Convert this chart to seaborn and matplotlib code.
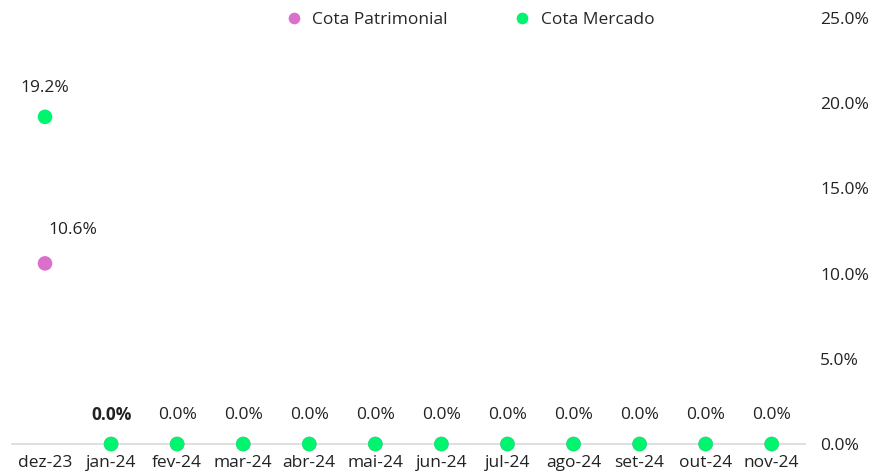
import pandas as pd
import matplotlib.pyplot as plt
import seaborn as sns

# Data
meses = ["dez-23", "jan-24", "fev-24", "mar-24", "abr-24", "mai-24",
         "jun-24", "jul-24", "ago-24", "set-24", "out-24", "nov-24"]
cota_patrimonial = [10.6, 0.0, 0.0, 0.0, 0.0, 0.0, 0.0, 0.0, 0.0, 0.0, 0.0, 0.0]
cota_mercado = [19.2, 0.0, 0.0, 0.0, 0.0, 0.0, 0.0, 0.0, 0.0, 0.0, 0.0, 0.0]
y_ticks = [0, 5, 10, 15, 20, 25]

cor_patrimonial = "#DA70CB"
cor_mercado = "#00F56E"
fs = 12.5

df = pd.DataFrame({
    "mes": meses * 2,
    "valor": cota_patrimonial + cota_mercado,
    "serie": ["Cota Patrimonial"] * len(meses) + ["Cota Mercado"] * len(meses),
})

sns.set_theme(style="white")
plt.rcParams['font.family'] = ['Open Sans', 'DejaVu Sans']

fig = plt.figure(figsize=(8.75, 4.76), dpi=100)
ax = fig.add_axes([0.0137, 0.0672, 0.906, 0.895])

sns.scatterplot(
    data=df,
    x="mes",
    y="valor",
    hue="serie",
    palette={"Cota Patrimonial": cor_patrimonial, "Cota Mercado": cor_mercado},
    s=110,
    edgecolor="none",
    clip_on=False,
    zorder=3,
    ax=ax,
)

ax.set_xlim(-0.5, len(meses) - 0.5)
ax.set_ylim(0, 25)

# Data labels
for i, v in enumerate(cota_mercado):
    weight = "bold" if i == 1 else "normal"
    ax.annotate(f"{v:.1f}%", (i, v), xytext=(0, 21), textcoords="offset points",
                ha="center", va="center", fontsize=fs, color="#222222",
                fontweight=weight)
ax.annotate(f"{cota_patrimonial[0]:.1f}%", (0, cota_patrimonial[0]),
            xytext=(20, 24), textcoords="offset points",
            ha="center", va="center", fontsize=fs, color="#222222")

# Axes styling
ax.yaxis.tick_right()
ax.set_yticks(y_ticks)
ax.set_yticklabels([f"{t:.1f}%" for t in y_ticks], fontsize=fs, color="#222222")
ax.tick_params(axis="y", length=0, pad=11)

ax.set_xticks(range(len(meses)))
ax.set_xticklabels(meses, fontsize=fs, color="#222222")
ax.set_xticks([i - 0.5 for i in range(len(meses) + 1)], minor=True)
ax.tick_params(axis="x", which="major", length=0, pad=8)
ax.tick_params(axis="x", which="minor", length=5, color="#d9d9d9", width=1.2)

for side in ["top", "left", "right"]:
    ax.spines[side].set_visible(False)
ax.spines["bottom"].set_color("#d9d9d9")
ax.spines["bottom"].set_linewidth(1.2)
ax.set_xlabel("")
ax.set_ylabel("")

ax.legend(loc="upper center", bbox_to_anchor=(0.572, 1.05), ncol=2,
          frameon=False, fontsize=fs, handletextpad=0.05, columnspacing=3.3,
          markerscale=0.8)

plt.savefig("out.png", dpi=100)
plt.close()
